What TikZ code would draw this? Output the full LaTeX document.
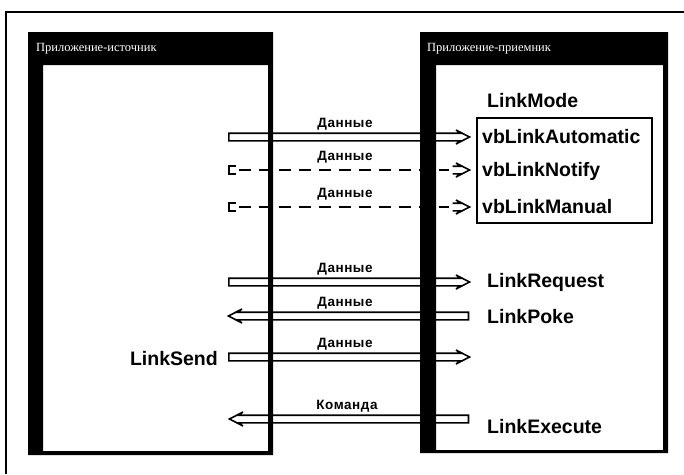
\documentclass[tikz,border=0pt]{standalone}
\usepackage{fontspec}
\setmainfont{Liberation Sans}
\newfontfamily\titlefont{Liberation Serif}
\newfontfamily\lblfont[LetterSpace=4]{Liberation Sans}
\usetikzlibrary{calc}
\tikzset{
  blockarrow/.style={draw, fill=white, line width=1.6pt, line join=miter},
  dashshaft/.style={line width=2.6pt, dash pattern=on 12pt off 8pt},
  bracketline/.style={line width=1.6pt},
  frameline/.style={line width=1.8pt},
  wintitle/.style={text=white, font=\titlefont\fontsize{12.5}{13}\selectfont, inner sep=0pt, anchor=base west},
  biglbl/.style={font=\bfseries\fontsize{19.5}{20}\selectfont, inner sep=0pt, anchor=base west},
  flowlbl/.style={font=\lblfont\bfseries\fontsize{13.5}{14}\selectfont, inner sep=0pt, anchor=base},
  modebox/.style={draw, line width=1.5pt}
}
\begin{document}
\begin{tikzpicture}[x=1pt, y=-1pt]
\useasboundingbox (0,0) rectangle (684,474);
\fill[white] (0,0) rectangle (684,474);
% outer frame (only top and left edges visible)
\draw[frameline] (6,474) -- (6,12) -- (684,12);

% arrow end points
\coordinate (a1s) at (228.8,137); \coordinate (a1e) at (469.5,137);
\coordinate (a2s) at (228.8,170); \coordinate (a2e) at (469.5,170);
\coordinate (a3s) at (228.8,207); \coordinate (a3e) at (469.5,207);
\coordinate (a4s) at (228.8,282); \coordinate (a4e) at (469.5,282);
\coordinate (a5s) at (468.5,316); \coordinate (a5e) at (228.5,316);
\coordinate (a6s) at (228.8,357); \coordinate (a6e) at (469.5,357);
\coordinate (a7s) at (468.5,419); \coordinate (a7e) at (229.5,419);

% solid hollow arrows
\foreach \s/\e/\d in {a1s/a1e/1, a4s/a4e/1, a6s/a6e/1, a5s/a5e/-1, a7s/a7e/-1}{
  \draw[blockarrow] ($(\s)+(0,-3.8)$) -- ($(\e)+(-9*\d,-3.8)$) -- ($(\e)+(-13.5*\d,-7)$)
     -- (\e) -- ($(\e)+(-13.5*\d,7)$) -- ($(\e)+(-9*\d,3.8)$) -- ($(\s)+(0,3.8)$) -- cycle;
}
% dashed arrows
\foreach \s/\e in {a2s/a2e, a3s/a3e}{
  \draw[bracketline] ($(\s)+(7,-3.8)$) -- ($(\s)+(0,-3.8)$) -- ($(\s)+(0,3.8)$) -- ($(\s)+(7,3.8)$);
  \draw[dashshaft] ($(\s)+(10,0)$) -- ($(\e)+(-21,0)$);
  \draw[blockarrow] ($(\e)+(-17,-3.8)$) -- ($(\e)+(-9,-3.8)$) -- ($(\e)+(-13.5,-7)$)
     -- (\e) -- ($(\e)+(-13.5,7)$) -- ($(\e)+(-9,3.8)$) -- ($(\e)+(-17,3.8)$);
}

% windows
\fill[black, even odd rule] (28,32) rectangle (273,455) (43,65) rectangle (268,451);
\fill[black, even odd rule] (420,32) rectangle (668,453) (436,65) rectangle (663,450);
\node[wintitle] (t1) at (36,51) {Приложение-источник};
\node[wintitle] (t2) at (427,51) {Приложение-приемник};

% LinkMode box
\draw[modebox] (477,118) rectangle (652,223);
\node[biglbl] (lm) at (487,107) {LinkMode};
\node[biglbl] (m1) at (482,143) {vbLinkAutomatic};
\node[biglbl] (m2) at (482,176) {vbLinkNotify};
\node[biglbl] (m3) at (482,213) {vbLinkManual};
\node[biglbl] (lr) at (487,287) {LinkRequest};
\node[biglbl] (lp) at (487,323) {LinkPoke};
\node[biglbl] (le) at (487,433) {LinkExecute};
\node[biglbl, anchor=base east] (ls) at (218,365) {LinkSend};

% flow labels
\node[flowlbl] (d1) at (345,127.5) {Данные};
\node[flowlbl] (d2) at (345,160.5) {Данные};
\node[flowlbl] (d3) at (345,197.5) {Данные};
\node[flowlbl] (d4) at (345,272.5) {Данные};
\node[flowlbl] (d5) at (345,306.5) {Данные};
\node[flowlbl] (d6) at (345,347.5) {Данные};
\node[flowlbl] (k1) at (347,409.5) {Команда};
\end{tikzpicture}
\end{document}
